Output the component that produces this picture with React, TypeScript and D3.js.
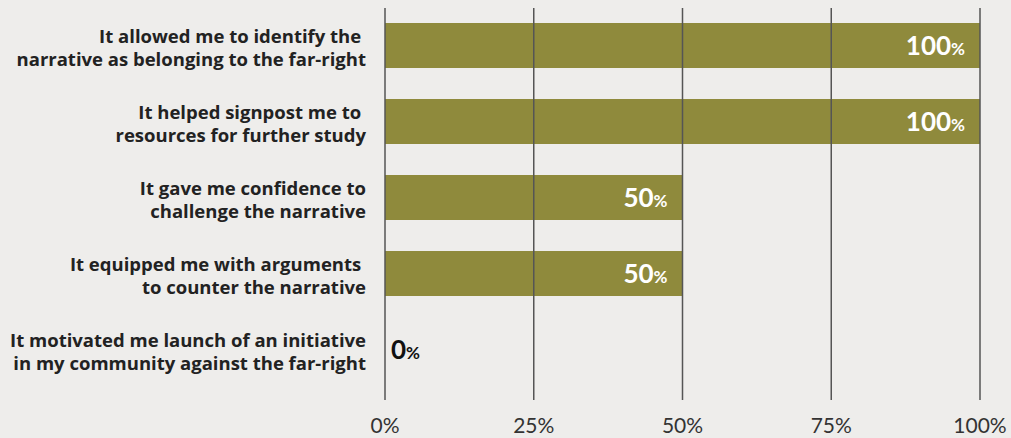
import React, { useEffect, useRef } from 'react';
import * as d3 from 'd3';

const categories = [
  ['It allowed me to identify the ', 'narrative as belonging to the far-right'],
  ['It helped signpost me to ', 'resources for further study'],
  ['It gave me confidence to', 'challenge the narrative'],
  ['It equipped me with arguments ', 'to counter the narrative'],
  ['It motivated me launch of an initiative', 'in my community against the far-right'],
];
const values = [100, 100, 50, 50, 0];
const ticks = [0, 25, 50, 75, 100];

const width = 1011;
const height = 438;

export default function App() {
  const svgRef = useRef<SVGSVGElement>(null);

  useEffect(() => {
    const svg = d3.select(svgRef.current);
    svg.selectAll('*').remove();

    const x = d3.scaleLinear().domain([0, 100]).range([385, 980]);
    const y = d3.scaleBand<number>()
      .domain(d3.range(values.length))
      .range([7.5, 387.5])
      .paddingInner(0.408)
      .paddingOuter(0.204);

    svg.append('rect').attr('width', width).attr('height', height).attr('fill', '#eeedeb');

    // bars
    svg.append('g').selectAll('rect')
      .data(values)
      .enter().append('rect')
      .attr('x', x(0))
      .attr('y', (_d, i) => y(i)!)
      .attr('width', d => x(d) - x(0))
      .attr('height', y.bandwidth())
      .attr('fill', '#8f8a3c');

    // grid lines
    svg.append('g').selectAll('line')
      .data(ticks)
      .enter().append('line')
      .attr('x1', d => x(d)).attr('x2', d => x(d))
      .attr('y1', 8).attr('y2', 400)
      .attr('stroke', '#555')
      .attr('stroke-width', 1.5);

    // tick labels
    svg.append('g').selectAll('text')
      .data(ticks)
      .enter().append('text')
      .attr('x', d => x(d))
      .attr('y', 433)
      .attr('text-anchor', 'middle')
      .style('font-family', 'Lato, sans-serif')
      .style('font-size', '21px')
      .style('fill', '#333')
      .text(d => `${d}%`);

    // category labels
    const lab = svg.append('g').selectAll('text')
      .data(categories)
      .enter().append('text')
      .attr('text-anchor', 'end')
      .style('font-family', '"Open Sans", sans-serif')
      .style('font-weight', 'bold')
      .style('font-size', '18.5px')
      .style('fill', '#222')
      .style('white-space', 'pre');
    lab.selectAll('tspan')
      .data((d, i) => d.map((t, j) => ({ t, j, i })))
      .enter().append('tspan')
      .attr('x', 366)
      .attr('y', d => y(d.i)! + y.bandwidth() / 2 + (d.j === 0 ? -3 : 20))
      .text(d => d.t);

    // value labels
    const vl = svg.append('g').selectAll('text')
      .data(values)
      .enter().append('text')
      .attr('x', d => d > 0 ? x(d) - 15 : x(0) + 6)
      .attr('y', (_d, i) => y(i)! + y.bandwidth() / 2 + 9)
      .attr('text-anchor', d => d > 0 ? 'end' : 'start')
      .style('font-family', 'Lato, sans-serif')
      .style('font-weight', 'bold')
      .style('fill', d => d > 0 ? '#fff' : '#111');
    vl.append('tspan').style('font-size', '26px').text(d => `${d}`);
    vl.append('tspan').style('font-size', '17px').text('%');
  }, []);

  return (
    <div style={{ position: 'fixed', left: 0, top: 0 }}>
      <svg ref={svgRef} width={width} height={height} style={{ display: 'block' }} />
    </div>
  );
}
